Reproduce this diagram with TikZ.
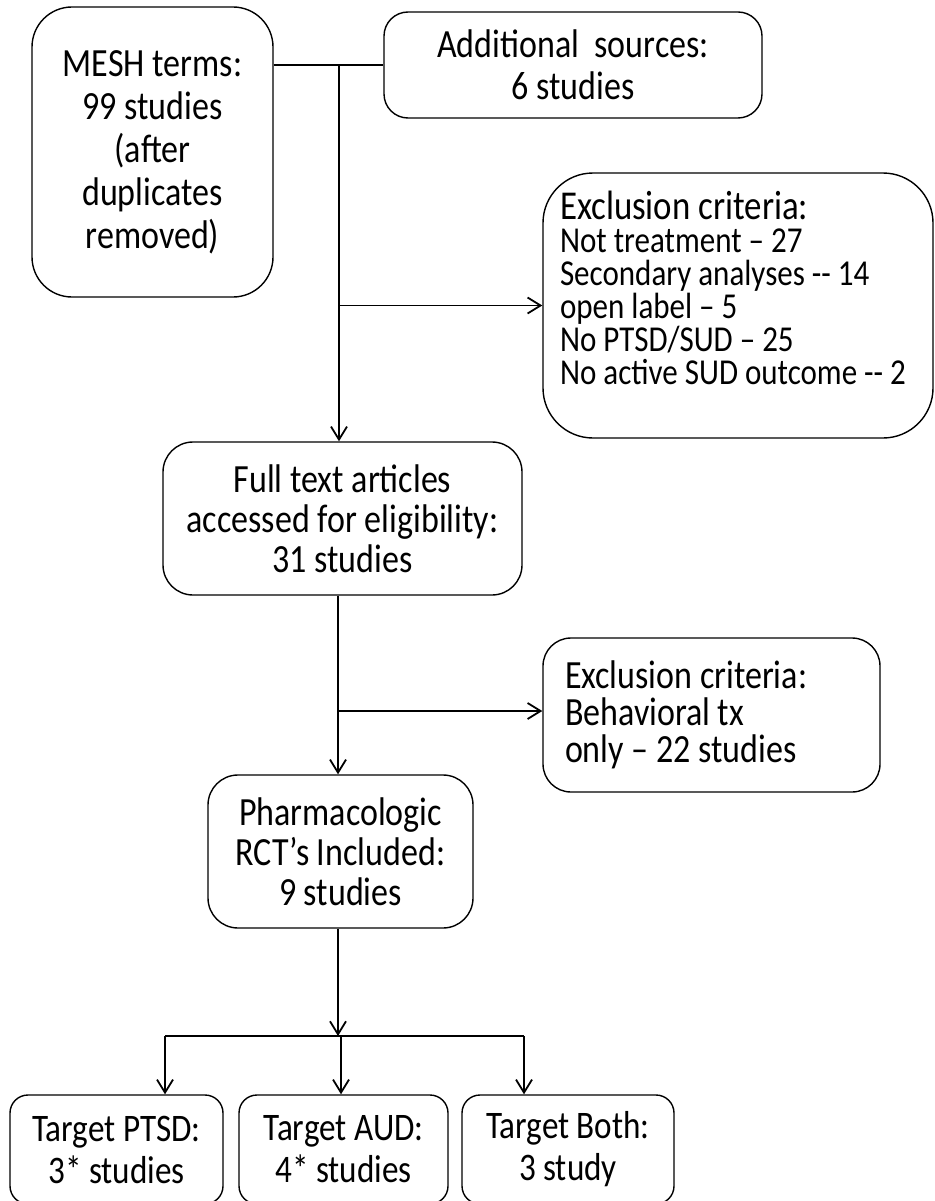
\documentclass[tikz,border=0pt]{standalone}
\usepackage{fontspec}
\setmainfont{Carlito}[FakeStretch=0.85]
\usetikzlibrary{arrows.meta,positioning,calc}

\begin{document}
\begin{tikzpicture}[x=1pt,y=-1pt,
  box/.style={draw,line width=1.4pt,rounded corners=#1,align=center,inner sep=0pt,font=\fontsize{40}{43}\selectfont},
  box/.default=30pt,
  flow/.style={-{Straight Barb[length=13pt,width=16pt]},line width=1.8pt},
  link/.style={line width=1.8pt}]
 \useasboundingbox (0,0) rectangle (934,1201);
 % sources
 \node[box=40pt,minimum width=241pt,minimum height=290pt] (mesh) at (152.5,152) {MESH terms:\\99 studies\\(after\\duplicates\\removed)};
 \node[box=24pt,minimum width=378pt,minimum height=106pt,font=\fontsize{40}{42}\selectfont] (src) at (573,65) {Additional\ \ sources:\\6 studies};
 % screening
 \node[box=50pt,minimum width=390pt,minimum height=265pt,align=flush left,text width=356pt,font=\fontsize{36.5}{33}\selectfont] (ex1) at (738,305.5)
   {{\fontsize{41}{33}\selectfont Exclusion criteria:}\\Not treatment – 27\\Secondary analyses -{}- 14\\open label – 5\\No PTSD/SUD – 25\\No active SUD outcome -{}- 2\\[2pt]\mbox{}};
 \node[box=30pt,minimum width=359pt,minimum height=153pt,font=\fontsize{40}{40}\selectfont] (full) at (342.5,518.5) {Full text articles\\accessed for eligibility:\\31 studies};
 \node[box=28pt,minimum width=337pt,minimum height=154pt,align=flush left,text width=293pt,font=\fontsize{40}{37}\selectfont] (ex2) at (711.5,715) {Exclusion criteria:\\Behavioral tx\\only – 22 studies};
 \node[box=30pt,minimum width=265pt,minimum height=153pt,font=\fontsize{40}{40}\selectfont] (rct) at (340.5,851.5) {Pharmacologic\\RCT’s Included:\\9 studies};
 % targets
 \node[box=18pt,minimum width=213pt,minimum height=109pt,font=\fontsize{39}{42}\selectfont] (ptsd) at (116.5,1149.5) {Target PTSD:\\3* studies};
 \node[box=18pt,minimum width=209pt,minimum height=109pt,font=\fontsize{39}{42}\selectfont] (aud) at (343.5,1149.5) {Target AUD:\\4* studies};
 \node[box=18pt,minimum width=212pt,minimum height=109pt,font=\fontsize{39}{42}\selectfont] (both) at (568,1149.5) {Target Both:\\3 study};
 % connectors
 \coordinate (j1) at (339,65);
 \coordinate (j2) at (338,711);
 \coordinate (j3) at (338,1036);
 \draw[link] (mesh.east |- src.west) -- (src.west);
 \draw[flow] (j1) -- (j1 |- full.north);
 \draw[flow] (j1 |- ex1.west) -- (ex1.west);
 \draw[flow] (j2 |- full.south) -- (j2 |- rct.north);
 \draw[flow] (j2) -- (j2 -| ex2.west);
 \draw[flow] (j3 |- rct.south) -- (j3);
 \foreach \x/\t in {165/ptsd,341/aud,524/both} {
   \coordinate (tip-\t) at (\x,1036);
   \draw[flow] (tip-\t) -- (tip-\t |- \t.north);
 }
 \draw[link] (tip-ptsd) -- (tip-both);
\end{tikzpicture}
\end{document}
